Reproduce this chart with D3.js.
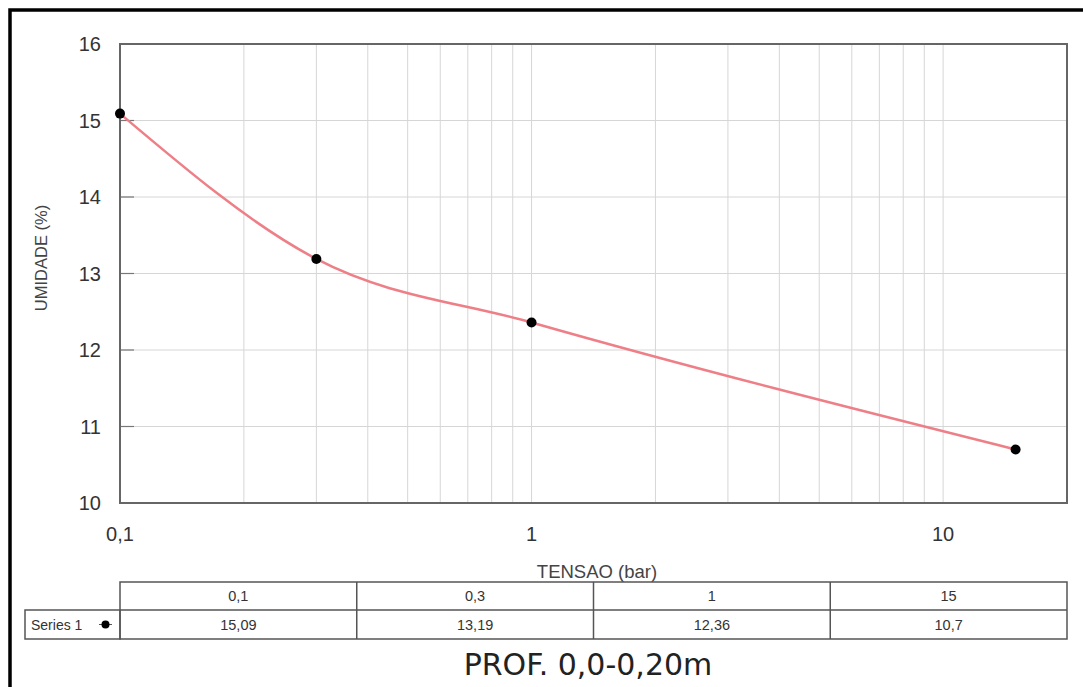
<!DOCTYPE html>
<html>
<head>
<meta charset="utf-8">
<script src="https://cdn.jsdelivr.net/npm/d3@7"></script>
<style>
  body { margin: 0; background: #fff; }
  text { font-family: "Liberation Sans", Arial, sans-serif; }
  text.title { font-family: "DejaVu Sans", Verdana, sans-serif; }
</style>
</head>
<body>
<script>
// data
var tensao = [0.1, 0.3, 1, 15];
var tensaoLabels = ["0,1", "0,3", "1", "15"];
var umidade = [15.09, 13.19, 12.36, 10.7];
var umidadeLabels = ["15,09", "13,19", "12,36", "10,7"];
var yTicks = [10, 11, 12, 13, 14, 15, 16];
var xTicks = [0.1, 1, 10];
var xTickLabels = ["0,1", "1", "10"];
var seriesName = "Series 1";

var W = 1083, H = 687;
var plot = {left: 120, top: 44, right: 1067, bottom: 503};

var svg = d3.select("body").append("svg")
	.attr("width", W)
	.attr("height", H);

// outer frame (left + top only, rest is cropped)
svg.append("path")
	.attr("d", "M10," + H + " V10 H" + W)
	.attr("fill", "none")
	.attr("stroke", "#000")
	.attr("stroke-width", 3.5);

var x = d3.scaleLog().domain([0.1, 20]).range([plot.left, plot.right]);
var y = d3.scaleLinear().domain([10, 16]).range([plot.bottom, plot.top]);

// grid
var minor = [];
[0.1, 1, 10].forEach(function (d) {
	for (var k = 1; k < 10; k++) {
		var v = d * k;
		if (v > 0.1 && v < 20) minor.push(v);
	}
});
svg.append("g").selectAll("line").data(minor).join("line")
	.attr("x1", function (d) { return x(d); })
	.attr("x2", function (d) { return x(d); })
	.attr("y1", plot.top).attr("y2", plot.bottom)
	.attr("stroke", "#d6d6d6").attr("stroke-width", 1);
svg.append("g").selectAll("line").data(yTicks.slice(1, -1)).join("line")
	.attr("x1", plot.left).attr("x2", plot.right)
	.attr("y1", function (d) { return y(d); })
	.attr("y2", function (d) { return y(d); })
	.attr("stroke", "#d6d6d6").attr("stroke-width", 1);

// small inward ticks on left axis
svg.append("g").selectAll("line").data(yTicks).join("line")
	.attr("x1", plot.left).attr("x2", plot.left + 14)
	.attr("y1", function (d) { return y(d); })
	.attr("y2", function (d) { return y(d); })
	.attr("stroke", "#777").attr("stroke-width", 1.2);

// plot frame
svg.append("rect")
	.attr("x", plot.left).attr("y", plot.top)
	.attr("width", plot.right - plot.left)
	.attr("height", plot.bottom - plot.top)
	.attr("fill", "none")
	.attr("stroke", "#666").attr("stroke-width", 2);

// tick labels
svg.append("g").selectAll("text").data(yTicks).join("text")
	.attr("x", 101)
	.attr("y", function (d) { return y(d); })
	.attr("dy", "0.36em")
	.attr("text-anchor", "end")
	.attr("font-size", 20)
	.attr("fill", "#333")
	.text(function (d) { return d; });
svg.append("g").selectAll("text").data(xTicks).join("text")
	.attr("x", function (d) { return x(d); })
	.attr("y", 541)
	.attr("text-anchor", "middle")
	.attr("font-size", 20)
	.attr("fill", "#333")
	.text(function (d, i) { return xTickLabels[i]; });

// axis titles
svg.append("text")
	.attr("transform", "translate(47,258) rotate(-90)")
	.attr("text-anchor", "middle")
	.attr("font-size", 16.5)
	.attr("fill", "#444")
	.text("UMIDADE (%)");
svg.append("text")
	.attr("x", 597).attr("y", 578)
	.attr("text-anchor", "middle")
	.attr("font-size", 18.5)
	.attr("fill", "#444")
	.text("TENSAO (bar)");

// curve
var pts = tensao.map(function (d, i) { return [x(d), y(umidade[i])]; });
svg.append("path")
	.attr("d", d3.line().curve(d3.curveMonotoneX)(pts))
	.attr("fill", "none")
	.attr("stroke", "#ee7f87")
	.attr("stroke-width", 2.5);

svg.append("g").selectAll("circle").data(tensao).join("circle")
	.attr("cx", function (d) { return x(d); })
	.attr("cy", function (d, i) { return y(umidade[i]); })
	.attr("r", 5)
	.attr("fill", "#000");

// data table
var tbl = {left: plot.left, right: plot.right, top: 582, mid: 610, bottom: 639, labelLeft: 25};
var colW = (tbl.right - tbl.left) / tensao.length;
var tg = svg.append("g").attr("stroke", "#555").attr("stroke-width", 1.5).attr("fill", "none");
tg.append("rect").attr("x", tbl.left).attr("y", tbl.top)
	.attr("width", tbl.right - tbl.left).attr("height", tbl.bottom - tbl.top);
tg.append("rect").attr("x", tbl.labelLeft).attr("y", tbl.mid)
	.attr("width", tbl.left - tbl.labelLeft).attr("height", tbl.bottom - tbl.mid);
tg.append("line").attr("x1", tbl.left).attr("x2", tbl.right)
	.attr("y1", tbl.mid).attr("y2", tbl.mid);
tg.selectAll("line.col").data(d3.range(1, tensao.length)).join("line")
	.attr("class", "col")
	.attr("x1", function (d) { return tbl.left + d * colW; })
	.attr("x2", function (d) { return tbl.left + d * colW; })
	.attr("y1", tbl.top).attr("y2", tbl.bottom);

svg.append("g").selectAll("text").data(tensaoLabels).join("text")
	.attr("x", function (d, i) { return tbl.left + (i + 0.5) * colW; })
	.attr("y", (tbl.top + tbl.mid) / 2)
	.attr("dy", "0.36em")
	.attr("text-anchor", "middle")
	.attr("font-size", 14.5)
	.attr("fill", "#333")
	.text(function (d) { return d; });
svg.append("g").selectAll("text").data(umidadeLabels).join("text")
	.attr("x", function (d, i) { return tbl.left + (i + 0.5) * colW; })
	.attr("y", (tbl.mid + tbl.bottom) / 2)
	.attr("dy", "0.36em")
	.attr("text-anchor", "middle")
	.attr("font-size", 14.5)
	.attr("fill", "#333")
	.text(function (d) { return d; });
svg.append("text")
	.attr("x", 31).attr("y", (tbl.mid + tbl.bottom) / 2)
	.attr("dy", "0.36em")
	.attr("font-size", 14)
	.attr("fill", "#333")
	.text(seriesName);
svg.append("line")
	.attr("x1", 99).attr("x2", 112)
	.attr("y1", (tbl.mid + tbl.bottom) / 2).attr("y2", (tbl.mid + tbl.bottom) / 2)
	.attr("stroke", "#555").attr("stroke-width", 1);
svg.append("circle")
	.attr("cx", 105.5).attr("cy", (tbl.mid + tbl.bottom) / 2)
	.attr("r", 4).attr("fill", "#000");

// title
svg.append("text")
	.attr("class", "title")
	.attr("x", 588).attr("y", 675)
	.attr("text-anchor", "middle")
	.attr("font-size", 30)
	.attr("fill", "#222")
	.text("PROF. 0,0-0,20m");
</script>
</body>
</html>
